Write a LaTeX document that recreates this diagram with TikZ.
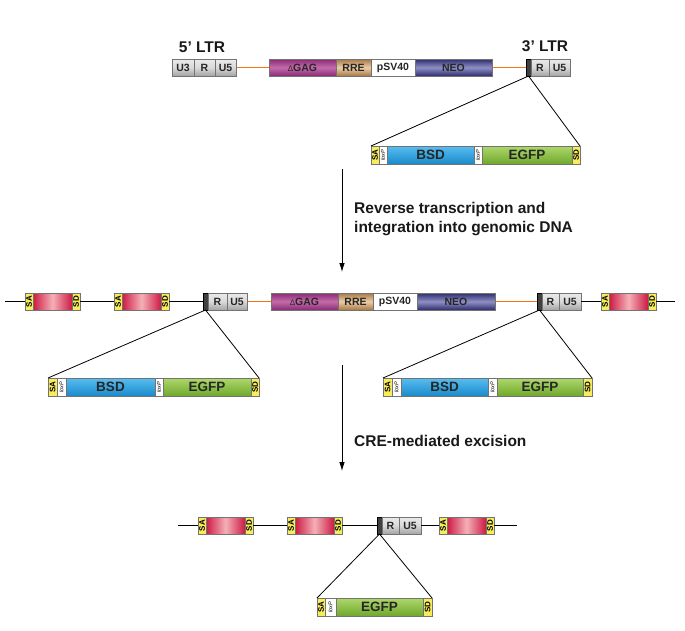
\documentclass[tikz,border=0pt]{standalone}
\usepackage{fontspec}
\setmainfont{Liberation Sans}
\usetikzlibrary{arrows.meta,backgrounds}
\definecolor{orangeln}{RGB}{245,115,20}
\definecolor{gagT}{HTML}{8A2A76}
\definecolor{gagM}{HTML}{C46CAA}
\definecolor{rreT}{HTML}{A87845}
\definecolor{rreM}{HTML}{EACDA8}
\definecolor{neoT}{HTML}{2C2C6C}
\definecolor{neoM}{HTML}{9090C6}
\definecolor{bsdT}{HTML}{58BDF0}
\definecolor{bsdB}{HTML}{1A8ACB}
\definecolor{egT}{HTML}{AED86C}
\definecolor{egB}{HTML}{6FA82C}
\definecolor{yel}{HTML}{F6EC5C}
\definecolor{exE}{HTML}{CC1A44}
\definecolor{exM}{HTML}{F4B0B6}
\tikzset{
  blk/.style={inner sep=0pt, outer sep=0pt, anchor=north west, draw=black!55, line width=0.4pt,
     font=\bfseries\fontsize{10.5}{10.5}\selectfont, text=black!85},
  grayb/.style={blk, top color=black!8, bottom color=black!36, middle color=black!15},
  barb/.style={blk, draw=black, fill=black!75, minimum width=5pt},
  gagb/.style={blk, top color=gagT, bottom color=gagT, middle color=gagM},
  rreb/.style={blk, top color=rreT, bottom color=rreT, middle color=rreM},
  psvb/.style={blk, fill=white},
  neob/.style={blk, top color=neoT, bottom color=neoT, middle color=neoM},
  yelb/.style={blk, fill=yel, font=\bfseries\fontsize{8}{8}\selectfont, text=black},
  loxb/.style={blk, fill=white, font=\itshape\fontsize{5.5}{5.5}\selectfont, text=black},
  bsdb/.style={blk, top color=bsdT, bottom color=bsdB, font=\bfseries\fontsize{13.5}{13.5}\selectfont},
  egfpb/.style={blk, top color=egT, bottom color=egB, font=\bfseries\fontsize{13.5}{13.5}\selectfont},
  exonb/.style={blk, left color=exE, right color=exE, middle color=exM},
  bb/.style={line width=0.8pt, draw=black},
  orangelink/.style={line width=1.4pt, draw=orangeln},
  lbl/.style={font=\bfseries\fontsize{15.5}{19.5}\selectfont, inner sep=0pt, text=black!90},
  arr/.style={line width=0.8pt, draw=black, -{Latex[length=9pt,width=5.5pt]}}
}
\newcommand\exonu[3]{%
  \node[yelb, minimum width=8pt] (#1sa) at (#2,#3) {\rotatebox{90}{SA}};
  \node[exonb, minimum width=39pt] (#1r) at (#2+8,#3) {};
  \node[yelb, minimum width=8pt] (#1sd) at (#2+47,#3) {\rotatebox{90}{SD}};
}
\begin{document}
\begin{tikzpicture}[x=1pt,y=-1pt]
\useasboundingbox (0,0) rectangle (685,630);

% ---------------- top construct ----------------
\begin{scope}[every node/.append style={minimum height=17pt}]
\node[grayb, minimum width=22pt] (tu3) at (172,59) {U3};
\node[grayb, minimum width=21pt] (tr) at (194,59) {R};
\node[grayb, minimum width=21pt] (tu5) at (215,59) {U5};
\node[gagb, minimum width=67pt] (tgag) at (269,59) {{\fontsize{8}{8}\selectfont\mdseries Δ}GAG};
\node[rreb, minimum width=35pt] (trre) at (336,59) {RRE};
\node[psvb, minimum width=44pt] (tpsv) at (371,59) {pSV40};
\node[neob, minimum width=77pt] (tneo) at (415,59) {NEO};
\node[barb] (tbar) at (526,59) {};
\node[grayb, minimum width=18pt] (tr3) at (531,59) {R};
\node[grayb, minimum width=21pt] (tu53) at (549,59) {U5};
\end{scope}
\node[lbl, anchor=base] (l5) at (202,52) {5’ LTR};
\node[lbl, anchor=base] (l3) at (545,51) {3’ LTR};

% top insert
\begin{scope}[every node/.append style={minimum height=18pt}]
\node[yelb, minimum width=8pt] (isa) at (371,146) {\rotatebox{90}{SA}};
\node[loxb, minimum width=8pt] (ilx1) at (379,146) {\rotatebox{90}{loxP}};
\node[bsdb, minimum width=87pt] (ibsd) at (387,146) {BSD};
\node[loxb, minimum width=8pt] (ilx2) at (474,146) {\rotatebox{90}{loxP}};
\node[egfpb, minimum width=90pt] (iegfp) at (482,146) {EGFP};
\node[yelb, minimum width=8pt] (isd) at (572,146) {\rotatebox{90}{SD}};
\end{scope}
\draw[bb] (tbar.south) -- (isa.north west);
\draw[bb] (tbar.south) -- (isd.north east);

% arrow 1
\coordinate (a1s) at (342,169);
\coordinate (a1e) at (342,272);
\draw[arr] (a1s) -- (a1e);
\node[lbl, anchor=north west, align=left] (txt1) at (354,202) {Reverse transcription and\\integration into genomic DNA};

% ---------------- middle row ----------------
\coordinate (mstart) at (5,301.5);
\coordinate (mend) at (675,301.5);
\begin{scope}[every node/.append style={minimum height=17pt}]
\exonu{me1}{25}{293}
\exonu{me2}{114}{293}
\node[barb] (mbarL) at (203,293) {};
\node[grayb, minimum width=19pt] (mrL) at (208,293) {R};
\node[grayb, minimum width=20pt] (mu5L) at (227,293) {U5};
\node[gagb, minimum width=67pt] (mgag) at (271,293) {{\fontsize{8}{8}\selectfont\mdseries Δ}GAG};
\node[rreb, minimum width=35pt] (mrre) at (338,293) {RRE};
\node[psvb, minimum width=44pt] (mpsv) at (373,293) {pSV40};
\node[neob, minimum width=78pt] (mneo) at (417,293) {NEO};
\node[barb] (mbarR) at (537,293) {};
\node[grayb, minimum width=17pt] (mrR) at (542,293) {R};
\node[grayb, minimum width=22pt] (mu5R) at (559,293) {U5};
\exonu{me3}{601}{293}
\end{scope}
\draw[bb] (mstart) -- (me1sa.west);
\draw[bb] (me1sd.east) -- (me2sa.west);
\draw[bb] (me2sd.east) -- (mbarL.west);
\draw[bb] (mu5R.east) -- (me3sa.west);
\draw[bb] (me3sd.east) -- (mend);

% middle inserts
\begin{scope}[every node/.append style={minimum height=18pt}]
\node[yelb, minimum width=9pt] (lsa) at (48,378) {\rotatebox{90}{SA}};
\node[loxb, minimum width=9pt] (llx1) at (57,378) {\rotatebox{90}{loxP}};
\node[bsdb, minimum width=89pt] (lbsd) at (66,378) {BSD};
\node[loxb, minimum width=8pt] (llx2) at (155,378) {\rotatebox{90}{loxP}};
\node[egfpb, minimum width=88pt] (legfp) at (163,378) {EGFP};
\node[yelb, minimum width=8pt] (lsd) at (251,378) {\rotatebox{90}{SD}};

\node[yelb, minimum width=9pt] (rsa) at (383,378) {\rotatebox{90}{SA}};
\node[loxb, minimum width=9pt] (rlx1) at (392,378) {\rotatebox{90}{loxP}};
\node[bsdb, minimum width=87pt] (rbsd) at (401,378) {BSD};
\node[loxb, minimum width=9pt] (rlx2) at (488,378) {\rotatebox{90}{loxP}};
\node[egfpb, minimum width=86pt] (regfp) at (497,378) {EGFP};
\node[yelb, minimum width=9pt] (rsd) at (583,378) {\rotatebox{90}{SD}};
\end{scope}
\draw[bb] (mbarL.south) -- (lsa.north west);
\draw[bb] (mbarL.south) -- (lsd.north east);
\draw[bb] (mbarR.south) -- (rsa.north west);
\draw[bb] (mbarR.south) -- (rsd.north east);

% arrow 2
\coordinate (a2s) at (342,365);
\coordinate (a2e) at (342,471);
\draw[arr] (a2s) -- (a2e);
\node[lbl, anchor=base west] (txt2) at (354,446) {CRE-mediated excision};

% ---------------- bottom row ----------------
\coordinate (bstart) at (178,525.5);
\coordinate (bend) at (517,525.5);
\begin{scope}[every node/.append style={minimum height=17pt}]
\exonu{be1}{198}{517}
\exonu{be2}{287}{517}
\node[barb] (bbar) at (377,517) {};
\node[grayb, minimum width=17pt] (br) at (382,517) {R};
\node[grayb, minimum width=22pt] (bu5) at (399,517) {U5};
\exonu{be3}{439}{517}
\end{scope}
\draw[bb] (bstart) -- (be1sa.west);
\draw[bb] (be1sd.east) -- (be2sa.west);
\draw[bb] (be2sd.east) -- (bbar.west);
\draw[bb] (bu5.east) -- (be3sa.west);
\draw[bb] (be3sd.east) -- (bend);

\begin{scope}[every node/.append style={minimum height=18pt}]
\node[yelb, minimum width=8pt] (fsa) at (317,598) {\rotatebox{90}{SA}};
\node[loxb, minimum width=11pt] (flx) at (325,598) {\rotatebox{90}{loxP}};
\node[egfpb, minimum width=87pt] (fegfp) at (336,598) {EGFP};
\node[yelb, minimum width=9pt] (fsd) at (423,598) {\rotatebox{90}{SD}};
\end{scope}
\draw[bb] (bbar.south) -- (fsa.north west);
\draw[bb] (bbar.south) -- (fsd.north east);

% background: white page and orange vector backbone
\begin{scope}[on background layer]
\fill[white] (0,0) rectangle (685,630);
\draw[orangelink] (tu5.east) -- (tgag.west);
\draw[orangelink] (tneo.east) -- (tbar.west);
\draw[orangelink] (mu5L.east) -- (mgag.west);
\draw[orangelink] (mneo.east) -- (mbarR.west);
\end{scope}
\end{tikzpicture}
\end{document}
